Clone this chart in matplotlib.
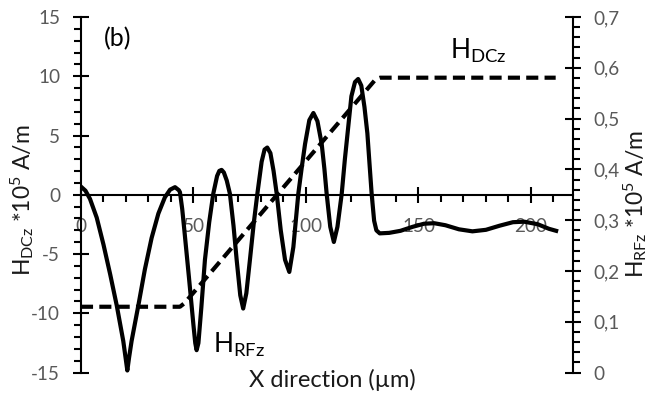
#!/usr/bin/env python3
"""DC and RF field profiles along the x direction, two y axes"""
import matplotlib
matplotlib.use("Agg")
import matplotlib.pyplot as plt
from matplotlib.ticker import MultipleLocator, FuncFormatter

plt.rcParams['font.family'] = ['Lato', 'DejaVu Sans']
plt.rcParams['mathtext.default'] = 'regular'

# DC field, left axis (x 10^5 A/m)
x_dc = [0, 44, 46, 131, 133, 211]
h_dc = [-9.45, -9.45, -9.15, 9.75, 9.88, 9.88]

# RF field, right axis (x 10^5 A/m)
x_rf = [0, 2, 4, 7, 10, 13, 15.9, 18.8, 19.8, 20.6, 21.4, 22.5, 25.5, 28.4,
        31.4, 34.4, 37.3, 39.6, 41.8, 43.5, 44, 45, 46, 48, 50, 50.8, 51.4,
        52.2, 53.5, 55.1, 57, 58.8, 60.5, 61.5, 62.5, 63.5, 64.8, 66.2, 67.8,
        69.2, 70.8, 72.1, 73.5, 75.1, 76.8, 78.4, 80.3, 81.6, 82.8, 84.2,
        85.6, 87, 88.8, 90.7, 92.6, 94.4, 96.6, 98.2, 99.6, 101.5, 103.3,
        105.1, 107, 108.2, 109.2, 110.8, 112.4, 114, 115.9, 117.3, 118.8,
        120.2, 121.8, 123.2, 124.6, 126, 127.3, 128.3, 129.2, 130.3, 131.3,
        132.8, 137, 142, 147.5, 152.5, 157, 162, 168, 174, 180, 186, 192,
        197, 203, 208, 211.2]
h_rf = [0.366, 0.358, 0.342, 0.305, 0.252, 0.193, 0.132, 0.062, 0.030,
        0.004, 0.030, 0.062, 0.132, 0.203, 0.265, 0.313, 0.345, 0.360,
        0.365, 0.359, 0.355, 0.322, 0.278, 0.187, 0.093, 0.058, 0.044,
        0.058, 0.128, 0.222, 0.296, 0.352, 0.387, 0.397, 0.399, 0.394,
        0.378, 0.352, 0.289, 0.222, 0.152, 0.126, 0.156, 0.222, 0.294,
        0.352, 0.415, 0.439, 0.443, 0.432, 0.397, 0.352, 0.280, 0.222,
        0.198, 0.247, 0.352, 0.406, 0.450, 0.497, 0.511, 0.495, 0.450,
        0.401, 0.352, 0.287, 0.257, 0.287, 0.352, 0.420, 0.484, 0.544,
        0.572, 0.578, 0.565, 0.523, 0.471, 0.408, 0.352, 0.299, 0.280,
        0.274, 0.275, 0.279, 0.287, 0.293, 0.294, 0.290, 0.282, 0.278,
        0.281, 0.289, 0.296, 0.297, 0.292, 0.283, 0.279]

x_ticks = [0, 50, 100, 150, 200]
left_ticks = [-15, -10, -5, 0, 5, 10, 15]
right_ticks = [0, 0.1, 0.2, 0.3, 0.4, 0.5, 0.6, 0.7]

tick_color = '#595959'
lw_axis = 1.5

fig = plt.figure(figsize=(6.53, 3.96), dpi=100)
ax = fig.add_axes([0.124, 0.0593, 0.7535, 0.8977])
ax2 = ax.twinx()

ax.plot(x_dc, h_dc, color='black', lw=3.0, linestyle=(0, (2.9, 1.5)),
        solid_joinstyle='round', dash_capstyle='butt')
ax2.plot(x_rf, h_rf, color='black', lw=3.0, solid_joinstyle='round')

ax.set_xlim(0, 218.7)
ax.set_ylim(-15, 15)
ax2.set_ylim(0, 0.7)

# x axis runs through y = 0
ax.spines['bottom'].set_position(('data', 0))
ax.spines['top'].set_visible(False)
ax.spines['right'].set_visible(False)
ax2.spines['top'].set_visible(False)
ax2.spines['bottom'].set_visible(False)
ax2.spines['left'].set_visible(False)
for sp in [ax.spines['bottom'], ax.spines['left'], ax2.spines['right']]:
    sp.set_linewidth(lw_axis)

ax.set_xticks(x_ticks)
ax.xaxis.set_minor_locator(MultipleLocator(10))
ax.set_yticks(left_ticks)
ax.yaxis.set_minor_locator(MultipleLocator(1))
ax2.set_yticks(right_ticks)
ax2.yaxis.set_minor_locator(MultipleLocator(0.02))

ax.yaxis.set_major_formatter(FuncFormatter(lambda v, p: '%d' % v))
ax2.yaxis.set_major_formatter(
    FuncFormatter(lambda v, p: '0' if abs(v) < 1e-9 else ('%.1f' % v).replace('.', ',')))

ax.tick_params(axis='x', which='major', direction='inout', length=12,
               width=lw_axis, labelsize=13.6, labelcolor=tick_color, pad=11)
ax.tick_params(axis='x', which='minor', direction='out', length=5, width=lw_axis)
ax.tick_params(axis='y', which='major', direction='inout', length=12,
               width=lw_axis, labelsize=13.6, labelcolor=tick_color, pad=9)
ax.tick_params(axis='y', which='minor', direction='out', length=5, width=lw_axis)
ax2.tick_params(axis='y', which='major', direction='inout', length=12,
                width=lw_axis, labelsize=13.6, labelcolor=tick_color, pad=9)
ax2.tick_params(axis='y', which='minor', direction='out', length=5, width=lw_axis)

fig.text(0.509, 0.040, 'X direction (\u00b5m)', ha='center', va='center',
         fontsize=17, color='#1a1a1a')
fig.text(0.034, 0.495, r'$H_{DCz}$ *10$^{5}$ A/m', ha='center', va='center',
         rotation=90, fontsize=16.5, color='#1a1a1a')
fig.text(0.972, 0.485, r'$H_{RFz}$ *10$^{5}$ A/m', ha='center', va='center',
         rotation=90, fontsize=16.5, color='#1a1a1a')

ax.text(16.4, 13.2, '(b)', ha='center', va='center', fontsize=18, color='black')
ax.text(164, 11.5, r'$H_{DCz}$', ha='left', va='baseline', fontsize=19,
        color='black')
ax.text(58.7, -13.3, r'$H_{RFz}$', ha='left', va='baseline', fontsize=19,
        color='black')

fig.savefig('out.png', dpi=100)
